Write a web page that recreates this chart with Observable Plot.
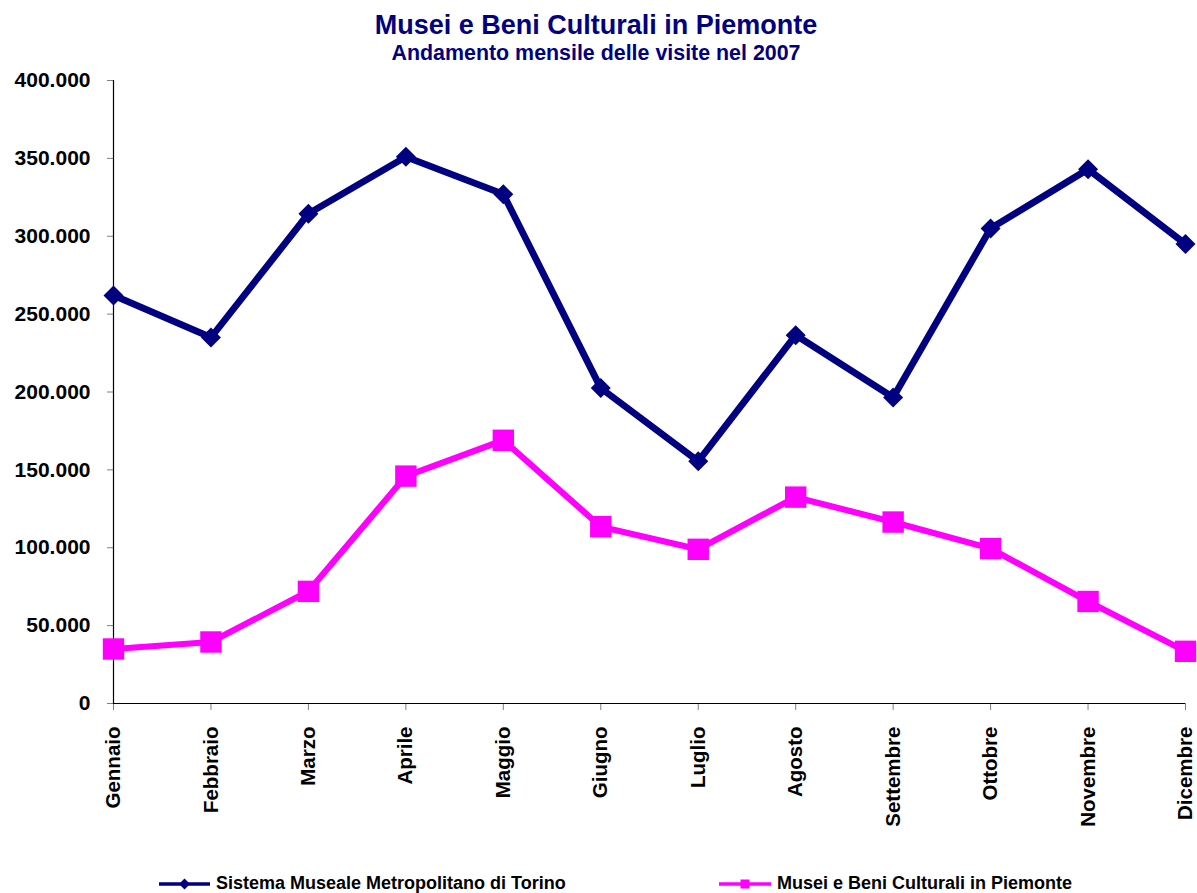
<!DOCTYPE html>
<html>
<head>
<meta charset="utf-8">
<script src="https://cdn.jsdelivr.net/npm/d3@7"></script>
<script src="https://cdn.jsdelivr.net/npm/@observablehq/plot@0.6"></script>
<style>
  body { margin: 0; background: white; }
  #wrap { position: relative; width: 1197px; height: 893px; overflow: hidden; font-family: "Liberation Sans", Arial, sans-serif; }
  .title { position: absolute; left: 0; width: 1192px; text-align: center; font-weight: bold; color: #000080; white-space: nowrap; }
  #chart { position: absolute; left: 0; top: 0; }
  #legend { position: absolute; left: 0; top: 0; }
</style>
</head>
<body>
<div id="wrap">
  <div id="chart"></div>
  <div class="title" style="top:12px;font-size:27px;line-height:27px;">Musei e Beni Culturali in Piemonte</div>
  <div class="title" style="top:43px;font-size:21.4px;line-height:21.4px;">Andamento mensile delle visite nel 2007</div>
  <svg id="legend" width="1197" height="893"></svg>
</div>
<script>
const months = ["Gennaio","Febbraio","Marzo","Aprile","Maggio","Giugno","Luglio","Agosto","Settembre","Ottobre","Novembre","Dicembre"];
const seriesNames = ["Sistema Museale Metropolitano di Torino", "Musei e Beni Culturali in Piemonte"];
const torino = [262000, 235000, 314500, 351000, 327000, 202500, 155500, 236500, 196500, 305000, 343000, 295000];
const piemonte = [35000, 39500, 72000, 146000, 169000, 113500, 99000, 132500, 116500, 99500, 65500, 33500];
const yTicks = [0, 50000, 100000, 150000, 200000, 250000, 300000, 350000, 400000];

const navy = "#000080";
const magenta = "#FF00FF";
const font = '"Liberation Sans", Arial, sans-serif';

const fmt = d3.formatLocale({decimal: ",", thousands: ".", grouping: [3], currency: ["€", ""]}).format(",d");

const diamond = {draw(ctx, size) { const r = Math.sqrt(size / Math.PI); ctx.moveTo(0, -r); ctx.lineTo(r, 0); ctx.lineTo(0, r); ctx.lineTo(-r, 0); ctx.closePath(); }};
const square = {draw(ctx, size) { const r = Math.sqrt(size / Math.PI); ctx.rect(-r, -r, 2 * r, 2 * r); }};

const chart = Plot.plot({
  width: 1197,
  height: 893,
  marginLeft: 113,
  marginRight: 12,
  marginTop: 80,
  marginBottom: 190,
  style: {fontFamily: font, background: "white", overflow: "visible"},
  x: {type: "point", domain: months, padding: 0, round: false, axis: null},
  y: {domain: [0, 400000], axis: null},
  marks: [
    Plot.axisY({ticks: yTicks, tickSize: 6, tickPadding: 17, tickFormat: fmt, stroke: "#808080", fill: "black", fontSize: 21, fontWeight: "bold", label: null}),
    Plot.axisX({ticks: months, tickSize: 7, tickFormat: () => "", stroke: "#808080", label: null}),
    Plot.ruleX([months[0]], {x: d => d, y1: () => 0, y2: () => 400000, stroke: "black", strokeWidth: 1.2}),
    Plot.ruleY([0], {stroke: "black", strokeWidth: 1.2}),
    Plot.text(months, {x: d => d, y: () => 0, dy: 23, rotate: -90, textAnchor: "end", lineAnchor: "middle", fontSize: 20.5, fontWeight: "bold", fill: "black", fontFamily: font}),
    Plot.line(torino, {x: months, y: d => d, stroke: navy, strokeWidth: 6.8, strokeLinejoin: "miter"}),
    Plot.dot(torino, {x: months, y: d => d, symbol: diamond, r: 10, fill: navy, stroke: "none"}),
    Plot.line(piemonte, {x: months, y: d => d, stroke: magenta, strokeWidth: 6.2, strokeLinejoin: "miter"}),
    Plot.dot(piemonte, {x: months, y: d => d, symbol: square, r: 10.7, fill: magenta, stroke: "none"})
  ]
});
document.getElementById("chart").appendChild(chart);

// Legend
const leg = d3.select("#legend");
const items = [
  {name: seriesNames[0], color: navy, x0: 159, x1: 210, sym: "diamond", tx: 216},
  {name: seriesNames[1], color: magenta, x0: 719, x1: 771, sym: "square", tx: 777}
];
const ly = 884;
for (const it of items) {
  leg.append("line").attr("x1", it.x0).attr("x2", it.x1).attr("y1", ly).attr("y2", ly)
    .attr("stroke", it.color).attr("stroke-width", 3.5);
  const cx = (it.x0 + it.x1) / 2;
  if (it.sym === "diamond") {
    leg.append("path").attr("d", `M${cx},${ly-5.5}L${cx+5.5},${ly}L${cx},${ly+5.5}L${cx-5.5},${ly}Z`).attr("fill", it.color);
  } else {
    leg.append("rect").attr("x", cx - 4.5).attr("y", ly - 4.5).attr("width", 9).attr("height", 9).attr("fill", it.color);
  }
  leg.append("text").attr("x", it.tx).attr("y", 888.5).attr("font-family", font).attr("font-size", 18)
    .attr("font-weight", "bold").attr("fill", "black").text(it.name);
}
</script>
</body>
</html>
